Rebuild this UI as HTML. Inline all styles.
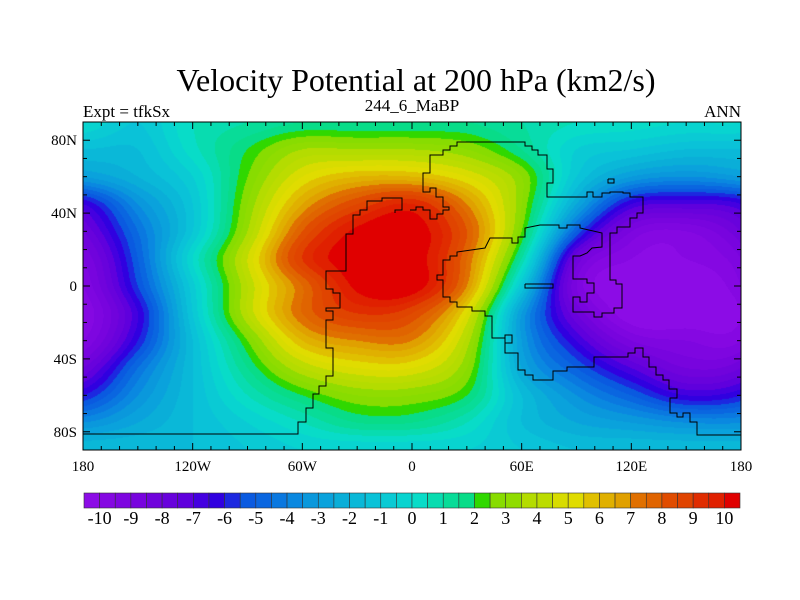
<!DOCTYPE html>
<html><head><meta charset="utf-8">
<style>
body{margin:0;background:#fff;}
#wrap{position:relative;width:800px;height:600px;overflow:hidden;background:#fff;font-family:"Liberation Serif",serif;}
</style></head>
<body>
<div id="wrap">
<canvas id="field" width="658" height="328" style="position:absolute;left:83px;top:122px;"></canvas>
<svg id="svg" width="800" height="600" style="position:absolute;left:0;top:0;"></svg>
</div>
<script>
// grid data: lon every 30 from -180..180, lat every 15 from 90..-90
const lons=[-180,-150,-120,-90,-60,-30,0,30,60,90,120,150,180];
const lats=[90,75,60,45,30,15,0,-15,-30,-45,-60,-75,-90];
const values=[
[0,-1,0.5,1,1.5,1.5,1.5,1.5,1,0.5,0.3,0,0],
[-1.5,-1.5,0.3,2,3.5,3.5,3.5,3,1.5,-0.5,-1,-1.5,-1.5],
[-3,-2,-0.5,2.5,5,6,6,5,3,-1,-3,-3.5,-3],
[-6.5,-3.5,-1,3,6.5,8.5,9.5,7,3,-2.5,-6.5,-7,-6.5],
[-8,-4.5,-1,3.5,8,10.2,10.5,8,2.5,-5,-9,-9.5,-8],
[-9,-5,0,4.5,9,10.5,10.5,7.5,1,-8,-10,-10,-9],
[-9.5,-5.5,-0.7,4,7.5,10.2,10.5,7,-1,-9,-10.5,-10.5,-9.5],
[-10,-6.5,-1,4,7.5,9,8.5,5,-3,-8,-10.5,-10.5,-10],
[-9.5,-6,-1.5,2.5,6,7,7,3.8,-3,-6.5,-9,-9.5,-9.5],
[-8,-4.5,-1.5,1.5,4,5,5,3,-2.5,-5,-7,-8.5,-8],
[-6,-3.5,-1.5,0.5,2,3,3,2,-1.5,-3.5,-5,-6.5,-6],
[-3.5,-2.5,-1.5,-0.5,0.5,1.5,1.5,0.5,-1.5,-2.5,-3,-3.5,-3.5],
[-1.5,-1.5,-1.5,-1,-0.5,-0.5,-0.5,-0.5,-1,-1.5,-1.5,-1.5,-1.5]];
const levels=[];for(let i=0;i<=40;i++)levels.push(-10+i*0.5);
const colors=["#8c0ce6","#8508e2","#7e06e0","#7804de","#7003dc","#6802dc","#5f00dd","#4400e0","#3000e0","#1c28e0","#0a5ae0","#0a66e0","#0a78e0","#0a88e0","#0a98dc","#0aa2dc","#0aaed8","#0ab8d8","#0ac2d8","#0acad4","#08d4d0","#08dcc8","#08dcb0","#08dc98","#08dc88","#30d800","#88dc00","#90dc00","#b4dc00","#bcdc00","#d8dc00","#e0dc00","#e0c000","#e0b000","#e0a000","#e07000","#e06400","#e04c00","#e04400","#e02c00","#e02000","#e00000"];
const cbLabels=["-10","-9","-8","-7","-6","-5","-4","-3","-2","-1","0","1","2","3","4","5","6","7","8","9","10"];
const lonTicks=[-180,-120,-60,0,60,120,180];
const lonTickLabels=["180","120W","60W","0","60E","120E","180"];
const latTicks=[80,40,0,-40,-80];
const latTickLabels=["80N","40N","0","40S","80S"];
// continent outlines (screen coordinates, traced)
const coasts=[
[[83,434],[298,434],[298,422],[306,422],[306,408],[313,408],[313,394],[319,394],[319,386],[326,386],[326,376],[333,376],[333,348],[326,348],[326,320],[333,320],[333,311],[326,311],[326,308],[340,308],[340,293],[333,293],[333,289],[326,289],[326,271],[346,271],[346,234],[353,234],[353,215],[360,215],[360,210],[367,210],[367,201],[382,201],[382,198],[402,198],[402,210],[395,210],[395,213]],
[[410,210],[416,210],[416,207],[423,207],[423,210],[430,210],[430,219],[437,219],[437,214],[443,214],[443,210],[449,210],[449,207],[443,207],[443,197],[436,197],[436,188],[430,188],[430,192],[423,192],[423,173],[430,173],[430,155],[443,155],[443,150],[450,150],[450,146],[457,146],[457,142],[525,142],[525,146],[532,146],[532,150],[538,150],[538,155],[547,155],[547,169],[553,169],[553,183],[547,183],[547,197],[587,197],[587,192],[593,192],[593,197],[602,197],[602,193],[610,193],[610,192],[623,192],[623,193],[630,193],[630,197],[643,197],[643,213],[637,213],[637,218],[630,218],[630,227],[617,227],[617,233],[610,233],[610,280],[616,280],[616,284],[622,284],[622,308],[614,308],[614,313],[602,313],[602,317],[594,317],[594,312],[573,312],[573,297],[580,297],[580,302],[587,302],[587,293],[594,293],[594,283],[587,283],[587,279],[573,279],[573,256],[580,256],[587,253],[592,248],[602,247],[602,233],[580,228],[580,225],[567,225],[567,228],[559,228],[559,225],[540,225],[525,228],[525,237],[518,237],[518,243],[512,243],[512,238],[490,238],[485,248],[457,252],[457,256],[450,256],[450,260],[443,260],[443,275],[437,275],[437,280],[443,280],[443,297],[450,297],[450,302],[457,302],[457,307],[472,307],[472,311],[485,311],[485,316],[492,316],[492,338],[505,338],[505,343],[512,343],[512,335],[505,335],[505,353],[518,353],[518,370],[525,370],[525,375],[533,375],[533,380],[553,380],[553,371],[567,371],[567,367],[594,367],[594,357],[628,357],[628,353],[635,353],[635,348],[643,348],[643,357],[649,357],[649,367],[656,367],[656,375],[663,375],[663,380],[669,380],[669,389],[677,389],[677,398],[670,398],[670,413],[677,413],[677,417],[683,417],[683,413],[690,413],[690,422],[697,422],[697,435],[741,435]],
[[525,284],[553,284],[553,288],[525,288],[525,284]],
[[608,179],[614,179],[614,183],[608,183],[608,179]]
];
function cr(p0,p1,p2,p3,t){return 0.5*((2*p1)+(-p0+p2)*t+(2*p0-5*p1+4*p2-p3)*t*t+(-p0+3*p1-3*p2+p3)*t*t*t);}
function gv(i,j){i=Math.max(0,Math.min(lats.length-1,i));if(j<0)j+=lons.length-1;if(j>lons.length-1)j-=lons.length-1;return values[i][j];}
function field(lon,lat){
  const fj=(lon-lons[0])/(lons[1]-lons[0]);const fi=(lats[0]-lat)/(lats[0]-lats[1]);
  let j=Math.min(Math.floor(fj),lons.length-2),i=Math.min(Math.floor(fi),lats.length-2);
  const tx=fj-j,ty=fi-i;const r=[];
  for(let k=-1;k<=2;k++){r.push(cr(gv(i+k,j-1),gv(i+k,j),gv(i+k,j+1),gv(i+k,j+2),tx));}
  return cr(r[0],r[1],r[2],r[3],ty);
}
const PX=83,PY=122,PW=658,PH=328;
const xs=lon=>PX+(lon+180)/360*PW;
const ys=lat=>PY+(90-lat)/180*PH;
function lvl(v){let k=0;while(k<levels.length&&v>=levels[k])k++;return k;}
const cv=document.getElementById('field');const ctx=cv.getContext('2d');
const img=ctx.createImageData(PW,PH);
const rgb=colors.map(c=>[parseInt(c.substr(1,2),16),parseInt(c.substr(3,2),16),parseInt(c.substr(5,2),16)]);
for(let y=0;y<PH;y++){const lat=90-(y+0.5)/PH*180;for(let x=0;x<PW;x++){const lon=-180+(x+0.5)/PW*360;const c=rgb[lvl(field(lon,lat))];const o=(y*PW+x)*4;img.data[o]=c[0];img.data[o+1]=c[1];img.data[o+2]=c[2];img.data[o+3]=255;}}
ctx.putImageData(img,0,0);
const svg=document.getElementById('svg');const NS='http://www.w3.org/2000/svg';
function mk(t,a,p){const e=document.createElementNS(NS,t);for(const k in a)e.setAttribute(k,a[k]);(p||svg).appendChild(e);return e;}
function txt(s,x,y,size,anchor,name){const e=mk('text',{x:x,y:y,'font-size':size,'text-anchor':anchor,'font-family':'Liberation Serif, serif',fill:'#000'});e.textContent=s;return e;}
coasts.forEach((c,ci)=>{const p=mk('polyline',{points:c.map(q=>q[0]+','+q[1]).join(' '),fill:'none',stroke:'#000','stroke-width':1});

});
const fr=mk('rect',{x:PX,y:PY,width:PW,height:PH,fill:'none',stroke:'#000','stroke-width':1});


for(let lon=-180;lon<=180;lon+=10){const maj=lon%60===0;const L=maj?7:4;
mk('line',{x1:xs(lon),x2:xs(lon),y1:PY,y2:PY+L,stroke:'#000'});mk('line',{x1:xs(lon),x2:xs(lon),y1:PY+PH,y2:PY+PH-L,stroke:'#000'});}
for(let lat=-90;lat<=90;lat+=10){const maj=lat%40===0;const L=maj?7:4;
mk('line',{x1:PX,x2:PX+L,y1:ys(lat),y2:ys(lat),stroke:'#000'});mk('line',{x1:PX+PW,x2:PX+PW-L,y1:ys(lat),y2:ys(lat),stroke:'#000'});}
lonTicks.forEach((l,i)=>txt(lonTickLabels[i],xs(l),471,15,'middle','x-tick-label'));
latTicks.forEach((l,i)=>txt(latTickLabels[i],77,ys(l)+5,15,'end','y-tick-label'));
txt('Velocity Potential at 200 hPa (km2/s)',416,91,32,'middle','chart-title');
txt('Expt = tfkSx',83,117,17,'start','experiment-label');
txt('244_6_MaBP',412,111,17,'middle','case-label');
txt('ANN',741,117,17,'end','season-label');
const CBX=84,CBY=493,CBW=656,CBH=15,n=colors.length,bw=CBW/n;
colors.forEach((c,k)=>{const r=mk('rect',{x:CBX+k*bw,y:CBY,width:bw,height:CBH,fill:c,stroke:'#333','stroke-width':0.6});

});
cbLabels.forEach((s,i)=>txt(s,CBX+(1+2*i)*bw,524,18,'middle','colorbar-label'));
</script>
</body></html>
